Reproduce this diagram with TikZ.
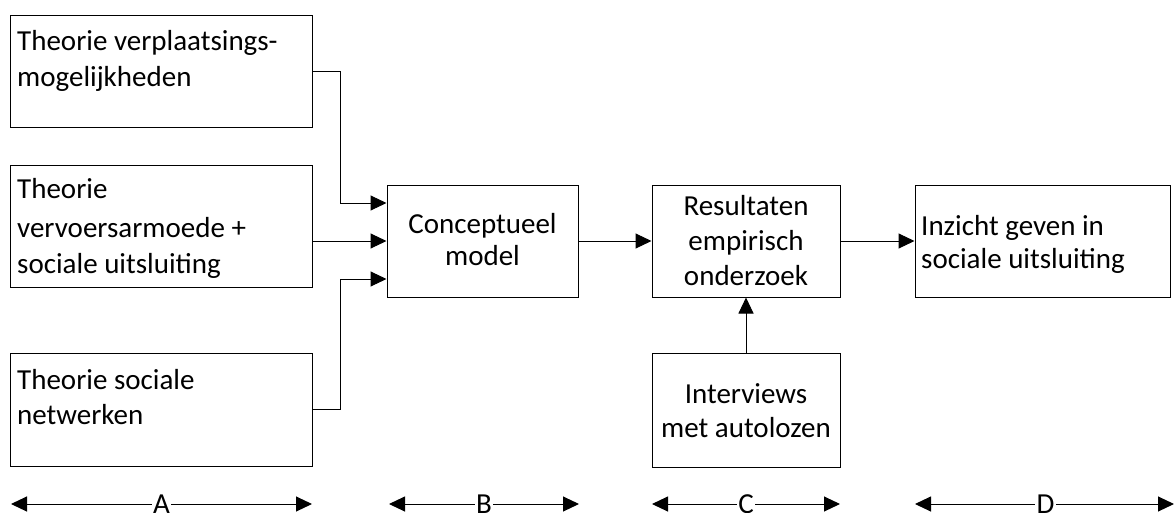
\documentclass[tikz,border=0pt]{standalone}
\usepackage{fontspec}
\setmainfont{Carlito}
\usetikzlibrary{arrows.meta,calc}
\begin{document}
\begin{tikzpicture}[x=1pt,y=-1pt,
  box/.style={draw=black,line width=1pt,rectangle,inner sep=0pt},
  txt/.style={inner sep=0pt,font=\fontsize{29}{35}\selectfont},
  conn/.style={draw=black,line width=1pt,-{Triangle[length=16pt,width=15pt]}},
  dim/.style={draw=black,line width=1pt,{Triangle[length=16pt,width=15pt]}-{Triangle[length=16pt,width=15pt]}},
  lbl/.style={fill=white,inner sep=1.5pt,font=\fontsize{29}{35}\selectfont}]
\useasboundingbox (0,0) rectangle (1176,512);
% boxes
\node[box,minimum width=302pt,minimum height=112pt] (a1) at (161,71) {};
\node[box,minimum width=302pt,minimum height=122pt] (a2) at (161,226) {};
\node[box,minimum width=302pt,minimum height=113pt] (a3) at (161,409.5) {};
\node[box,minimum width=191pt,minimum height=112pt] (b) at (482.5,241) {};
\node[box,minimum width=188pt,minimum height=112pt] (c) at (746,241) {};
\node[box,minimum width=188pt,minimum height=114pt] (i) at (746,410) {};
\node[box,minimum width=255pt,minimum height=112pt] (d) at (1042.5,241) {};
% texts
\node[txt,anchor=base west] (a1t1) at (17,50) {Theorie verplaatsings-};
\node[txt,anchor=base west] (a1t2) at (17,86) {mogelijkheden};
\node[txt,anchor=base west] (a2t1) at (17,198) {Theorie};
\node[txt,anchor=base west] (a2t2) at (17,237) {vervoersarmoede +};
\node[txt,anchor=base west] (a2t3) at (17,273) {sociale uitsluiting};
\node[txt,anchor=base west] (a3t1) at (17,389) {Theorie sociale};
\node[txt,anchor=base west] (a3t2) at (17,424) {netwerken};
\node[txt,anchor=base] (bt1) at (482.5,233) {Conceptueel};
\node[txt,anchor=base] (bt2) at (482.5,265) {model};
\node[txt,anchor=base] (ct1) at (746,215) {Resultaten};
\node[txt,anchor=base] (ct2) at (746,250) {empirisch};
\node[txt,anchor=base] (ct3) at (746,285) {onderzoek};
\node[txt,anchor=base] (it1) at (746,403) {Interviews};
\node[txt,anchor=base] (it2) at (746,437) {met autolozen};
\node[txt,anchor=base west] (dt1) at (921,235) {Inzicht geven in};
\node[txt,anchor=base west] (dt2) at (921,268) {sociale uitsluiting};
% connectors
\draw[conn] (a1.east) -- (340,71) -- (340,203) -- (b.west |- 0,203);
\draw[conn] (a2.east |- b.west) -- (b.west);
\draw[conn] (a3.east) -- (340,409.5) -- (340,279) -- (b.west |- 0,279);
\draw[conn] (b.east) -- (c.west);
\draw[conn] (c.east) -- (d.west);
\draw[conn] (i.north) -- (c.south);
% dimension arrows
\coordinate (dal) at (11,504);
\coordinate (dar) at (312,504);
\coordinate (dbl) at (389,504);
\coordinate (dbr) at (579,504);
\coordinate (dcl) at (652,504);
\coordinate (dcr) at (840,504);
\coordinate (ddl) at (915,504);
\coordinate (ddr) at (1174,504);
\draw[dim] (dal) -- node[lbl] (la) {A} (dar);
\draw[dim] (dbl) -- node[lbl] (lb) {B} (dbr);
\draw[dim] (dcl) -- node[lbl] (lc) {C} (dcr);
\draw[dim] (ddl) -- node[lbl,xshift=1pt] (ld) {D} (ddr);
\end{tikzpicture}
\end{document}
